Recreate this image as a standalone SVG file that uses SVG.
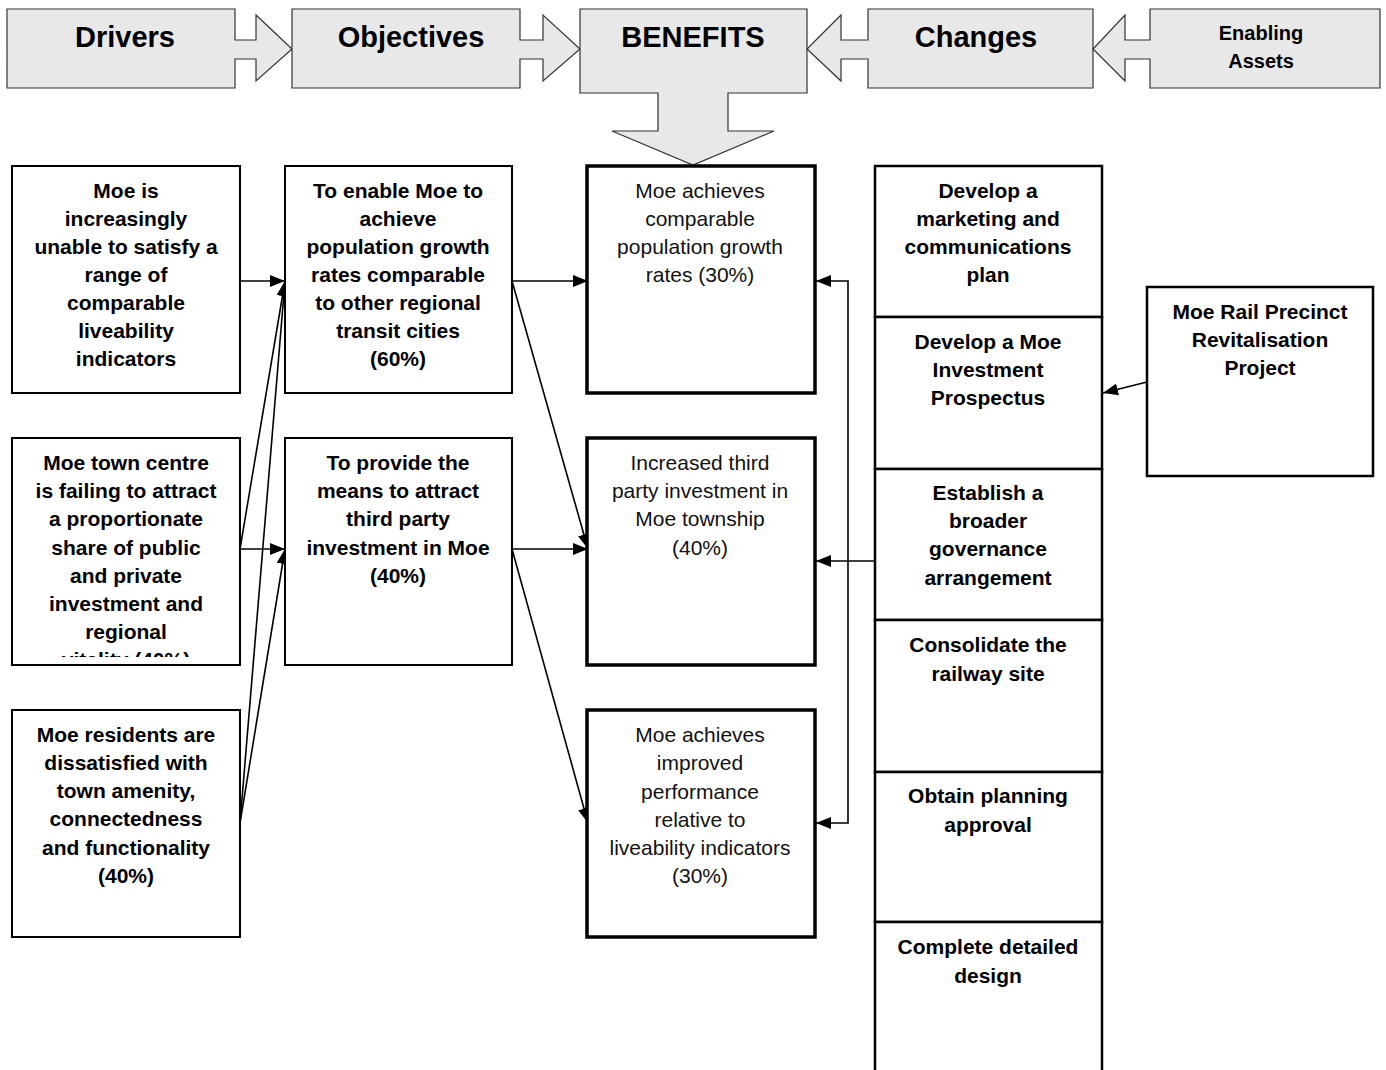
<svg xmlns="http://www.w3.org/2000/svg" width="1386" height="1070" viewBox="0 0 1386 1070">
<style>
.hdr{fill:#e8e8e8;stroke:#333;stroke-width:1.2}
.ht{font-family:"Liberation Sans",Arial,sans-serif;font-weight:bold;font-size:29px;fill:#000;text-anchor:middle}
.hs{font-size:20px}
.box{fill:#fff;stroke:#000;stroke-width:2}
.ben{fill:#fff;stroke:#000;stroke-width:3.5}
.chg{fill:#fff;stroke:#000;stroke-width:2.5}
.t{font-family:"Liberation Sans",Arial,sans-serif;font-weight:bold;font-size:21px;fill:#000;text-anchor:middle}
.n{font-family:"Liberation Sans",Arial,sans-serif;font-size:21px;fill:#111;text-anchor:middle}
.c{fill:none;stroke:#000;stroke-width:1.6;marker-end:url(#ah)}
</style>
<defs>
<marker id="ah" viewBox="0 0 15 12" refX="15" refY="6" markerWidth="15" markerHeight="12" markerUnits="userSpaceOnUse" orient="auto">
<path d="M0,0 L15,6 L0,12 Z" fill="#000"/>
</marker>
<clipPath id="clipD2"><rect x="12" y="438" width="228" height="219"/></clipPath>
</defs>
<rect width="1386" height="1070" fill="#fff"/>

<g id="hdr-drivers">
<path class="hdr" d="M7,9 H235 V40 H256 V15 L292,49 L256,81 V59 H235 V88 H7 Z"/>
<text class="ht" x="125" y="47">Drivers</text>
</g>
<g id="hdr-objectives">
<path class="hdr" d="M292,9 H520 V40 H543 V15 L580,49 L543,81 V59 H520 V88 H292 Z"/>
<text class="ht" x="411" y="47">Objectives</text>
</g>
<g id="hdr-benefits">
<path class="hdr" d="M580,9 H807 V93 H728 V131 H774 L693,165 L612,131 H658 V93 H580 Z"/>
<text class="ht" x="693" y="47">BENEFITS</text>
</g>
<g id="hdr-changes">
<path class="hdr" d="M868,9 H1093 V88 H868 V59 H841 V81 L807,49 L841,15 V40 H868 Z"/>
<text class="ht" x="976" y="47">Changes</text>
</g>
<g id="hdr-enabling">
<path class="hdr" d="M1150,9 H1380 V88 H1150 V59 H1125 V81 L1093,49 L1125,15 V40 H1150 Z"/>
<text class="ht hs" x="1261" y="40">Enabling</text>
<text class="ht hs" x="1261" y="68">Assets</text>
</g>

<g id="connectors">
<path class="c" d="M240,281 H285"/>
<path class="c" d="M240,549 L285,281"/>
<path class="c" d="M240,549 H285"/>
<path class="c" d="M240,823 L285,281"/>
<path class="c" d="M240,823 L285,549"/>
<path class="c" d="M512,281 H588"/>
<path class="c" d="M512,281 L588,549"/>
<path class="c" d="M512,549 H588"/>
<path class="c" d="M512,549 L588,823"/>
<path class="c" d="M848,552 V281 H816"/>
<path class="c" d="M848,552 V823 H816"/>
<path class="c" d="M875,561 H816"/>
<path class="c" d="M1147,382 L1103,393"/>
</g>

<g id="driver1">
<rect class="box" x="12" y="166" width="228" height="227"/>
<text class="t" x="126" y="198">Moe is</text>
<text class="t" x="126" y="226">increasingly</text>
<text class="t" x="126" y="254">unable to satisfy a</text>
<text class="t" x="126" y="282">range of</text>
<text class="t" x="126" y="310">comparable</text>
<text class="t" x="126" y="338">liveability</text>
<text class="t" x="126" y="366">indicators</text>
</g>
<g id="driver2">
<rect class="box" x="12" y="438" width="228" height="227"/>
<g clip-path="url(#clipD2)">
<text class="t" x="126" y="470">Moe town centre</text>
<text class="t" x="126" y="498">is failing to attract</text>
<text class="t" x="126" y="526">a proportionate</text>
<text class="t" x="126" y="555">share of public</text>
<text class="t" x="126" y="583">and private</text>
<text class="t" x="126" y="611">investment and</text>
<text class="t" x="126" y="639">regional</text>
<text class="t" x="126" y="667">vitality (40%)</text>
</g>
</g>
<g id="driver3">
<rect class="box" x="12" y="710" width="228" height="227"/>
<text class="t" x="126" y="742">Moe residents are</text>
<text class="t" x="126" y="770">dissatisfied with</text>
<text class="t" x="126" y="798">town amenity,</text>
<text class="t" x="126" y="826">connectedness</text>
<text class="t" x="126" y="855">and functionality</text>
<text class="t" x="126" y="883">(40%)</text>
</g>

<g id="objective1">
<rect class="box" x="285" y="166" width="227" height="227"/>
<text class="t" x="398" y="198">To enable Moe to</text>
<text class="t" x="398" y="226">achieve</text>
<text class="t" x="398" y="254">population growth</text>
<text class="t" x="398" y="282">rates comparable</text>
<text class="t" x="398" y="310">to other regional</text>
<text class="t" x="398" y="338">transit cities</text>
<text class="t" x="398" y="366">(60%)</text>
</g>
<g id="objective2">
<rect class="box" x="285" y="438" width="227" height="227"/>
<text class="t" x="398" y="470">To provide the</text>
<text class="t" x="398" y="498">means to attract</text>
<text class="t" x="398" y="526">third party</text>
<text class="t" x="398" y="555">investment in Moe</text>
<text class="t" x="398" y="583">(40%)</text>
</g>

<g id="benefit1">
<rect class="ben" x="587" y="166" width="228" height="227"/>
<text class="n" x="700" y="198">Moe achieves</text>
<text class="n" x="700" y="226">comparable</text>
<text class="n" x="700" y="254">population growth</text>
<text class="n" x="700" y="282">rates (30%)</text>
</g>
<g id="benefit2">
<rect class="ben" x="587" y="438" width="228" height="227"/>
<text class="n" x="700" y="470">Increased third</text>
<text class="n" x="700" y="498">party investment in</text>
<text class="n" x="700" y="526">Moe township</text>
<text class="n" x="700" y="555">(40%)</text>
</g>
<g id="benefit3">
<rect class="ben" x="587" y="710" width="228" height="227"/>
<text class="n" x="700" y="742">Moe achieves</text>
<text class="n" x="700" y="770">improved</text>
<text class="n" x="700" y="799">performance</text>
<text class="n" x="700" y="827">relative to</text>
<text class="n" x="700" y="855">liveability indicators</text>
<text class="n" x="700" y="883">(30%)</text>
</g>

<g id="change1">
<rect class="chg" x="875" y="166" width="227" height="151"/>
<text class="t" x="988" y="198">Develop a</text>
<text class="t" x="988" y="226">marketing and</text>
<text class="t" x="988" y="254">communications</text>
<text class="t" x="988" y="282">plan</text>
</g>
<g id="change2">
<rect class="chg" x="875" y="317" width="227" height="152"/>
<text class="t" x="988" y="349">Develop a Moe</text>
<text class="t" x="988" y="377">Investment</text>
<text class="t" x="988" y="405">Prospectus</text>
</g>
<g id="change3">
<rect class="chg" x="875" y="469" width="227" height="151"/>
<text class="t" x="988" y="500">Establish a</text>
<text class="t" x="988" y="528">broader</text>
<text class="t" x="988" y="556">governance</text>
<text class="t" x="988" y="585">arrangement</text>
</g>
<g id="change4">
<rect class="chg" x="875" y="620" width="227" height="152"/>
<text class="t" x="988" y="652">Consolidate the</text>
<text class="t" x="988" y="681">railway site</text>
</g>
<g id="change5">
<rect class="chg" x="875" y="772" width="227" height="150"/>
<text class="t" x="988" y="803">Obtain planning</text>
<text class="t" x="988" y="832">approval</text>
</g>
<g id="change6">
<rect class="chg" x="875" y="922" width="227" height="160"/>
<text class="t" x="988" y="954">Complete detailed</text>
<text class="t" x="988" y="983">design</text>
</g>

<g id="enabling1">
<rect class="chg" x="1147" y="287" width="226" height="189"/>
<text class="t" x="1260" y="319">Moe Rail Precinct</text>
<text class="t" x="1260" y="347">Revitalisation</text>
<text class="t" x="1260" y="375">Project</text>
</g>
</svg>
